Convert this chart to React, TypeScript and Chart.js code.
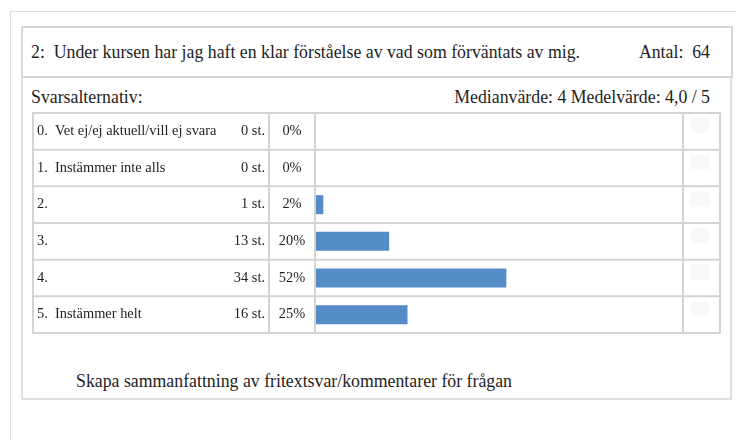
import React, { useEffect, useRef } from "react";
import { Chart, registerables } from "chart.js";

Chart.register(...registerables);

const questionTitle = "2:  Under kursen har jag haft en klar förståelse av vad som förväntats av mig.";
const countTitle = "Antal:  64";
const optionsTitle = "Svarsalternativ:";
const statsTitle = "Medianvärde: 4 Medelvärde: 4,0 / 5";
const footerText = "Skapa sammanfattning av fritextsvar/kommentarer för frågan";

const categories = [
  "0.  Vet ej/ej aktuell/vill ej svara",
  "1.  Instämmer inte alls",
  "2.",
  "3.",
  "4.",
  "5.  Instämmer helt",
];
const counts = [0, 0, 1, 13, 34, 16];
const percents = [0, 0, 2, 20, 52, 25];

const SERIF = "'Liberation Serif', 'Times New Roman', Times, serif";
const LINE = "#d3d3d3";
const TEXT = "#1e1e1e";
const BAR = "#538cc6";

const tablePlugin = {
  id: "surveyTable",
  beforeDatasetsDraw(chart: any) {
    const { ctx, chartArea } = chart;
    const y = chart.scales.y;
    const n = categories.length;
    const pitch = y.getPixelForValue(1) - y.getPixelForValue(0);
    const tableLeft = 1;
    const tableRight = chart.width - 2;
    const countRight = 233;
    const pctCenter = 260;
    const iconLeft = 659;

    ctx.save();
    ctx.fillStyle = "#f9f9f9";
    for (let i = 0; i < n; i++) {
      const top = y.getPixelForValue(i) - pitch / 2;
      ctx.fillRect(iconLeft, top + 5, 18, 15);
    }
    ctx.fillStyle = TEXT;
    ctx.font = `14.4px ${SERIF}`;
    ctx.textBaseline = "middle";
    for (let i = 0; i < n; i++) {
      const cy = y.getPixelForValue(i);
      ctx.textAlign = "left";
      ctx.fillText(categories[i], tableLeft + 4, cy);
      ctx.textAlign = "right";
      ctx.fillText(`${counts[i]} st.`, countRight, cy);
      ctx.textAlign = "center";
      ctx.fillText(`${percents[i]}%`, pctCenter, cy);
    }
    ctx.strokeStyle = LINE;
    ctx.lineWidth = 2;
    ctx.beginPath();
    for (let i = 0; i <= n; i++) {
      const yy = i < n ? y.getPixelForValue(i) - pitch / 2 : y.getPixelForValue(n - 1) + pitch / 2;
      ctx.moveTo(tableLeft, yy);
      ctx.lineTo(tableRight + 1, yy);
    }
    const top = chartArea.top;
    const bottom = chartArea.bottom;
    const xs = [tableLeft, 237, chartArea.left - 1, chartArea.right + 1, tableRight];
    xs.forEach((x) => {
      ctx.moveTo(x, top - 1);
      ctx.lineTo(x, bottom + 1);
    });
    ctx.stroke();
    ctx.restore();
  },
};

function SurveyChart() {
  const ref = useRef<HTMLCanvasElement | null>(null);
  useEffect(() => {
    if (!ref.current) return;
    const chart = new Chart(ref.current, {
      type: "bar",
      data: {
        labels: categories,
        datasets: [
          {
            data: percents,
            backgroundColor: BAR,
            borderWidth: 0,
            barPercentage: 0.52,
            categoryPercentage: 1,
          },
        ],
      },
      options: {
        indexAxis: "y",
        responsive: false,
        maintainAspectRatio: false,
        animation: false,
        events: [],
        layout: { padding: { left: 284, right: 40, top: 1, bottom: 3 } },
        scales: {
          x: { min: 0, max: 100, display: false },
          y: { type: "category", display: false, offset: true },
        },
        plugins: { legend: { display: false }, tooltip: { enabled: false } },
      },
      plugins: [tablePlugin],
    });
    return () => chart.destroy();
  }, []);
  return (
    <canvas
      ref={ref}
      width={690}
      height={224}
      style={{ position: "absolute", left: 32, top: 112, width: 690, height: 224 }}
    />
  );
}

const textStyle: React.CSSProperties = {
  position: "absolute",
  fontFamily: SERIF,
  fontSize: 17.8,
  lineHeight: "20px",
  color: TEXT,
  whiteSpace: "pre",
};

export default function App() {
  useEffect(() => {
    document.body.style.margin = "0";
    document.body.style.overflow = "hidden";
  }, []);
  return (
    <div style={{ position: "relative", width: 736, height: 440, background: "#fff", overflow: "hidden" }}>
      <div
        style={{
          position: "absolute",
          left: 10,
          top: 11,
          width: 726,
          height: 429,
          borderTop: "1px solid #dcdcdc",
          borderLeft: "1px solid #dcdcdc",
          boxSizing: "border-box",
        }}
      />
      <div
        style={{
          position: "absolute",
          left: 21,
          top: 76,
          width: 711,
          height: 324,
          borderLeft: "2px solid #e0e0e0",
          borderRight: "2px solid #e0e0e0",
          borderBottom: "2px solid #e0e0e0",
          boxSizing: "border-box",
        }}
      />
      <div
        style={{
          position: "absolute",
          left: 21,
          top: 26,
          width: 712,
          height: 52,
          border: "2px solid #d6d6d6",
          boxSizing: "border-box",
        }}
      />
      <div style={{ ...textStyle, left: 31, top: 42 }}>{questionTitle}</div>
      <div style={{ ...textStyle, left: 400, width: 310, top: 42, textAlign: "right" }}>{countTitle}</div>
      <div style={{ ...textStyle, left: 31, top: 87 }}>{optionsTitle}</div>
      <div style={{ ...textStyle, left: 300, width: 410, top: 87, textAlign: "right" }}>{statsTitle}</div>
      <SurveyChart />
      <div style={{ ...textStyle, left: 76, top: 371 }}>{footerText}</div>
    </div>
  );
}
